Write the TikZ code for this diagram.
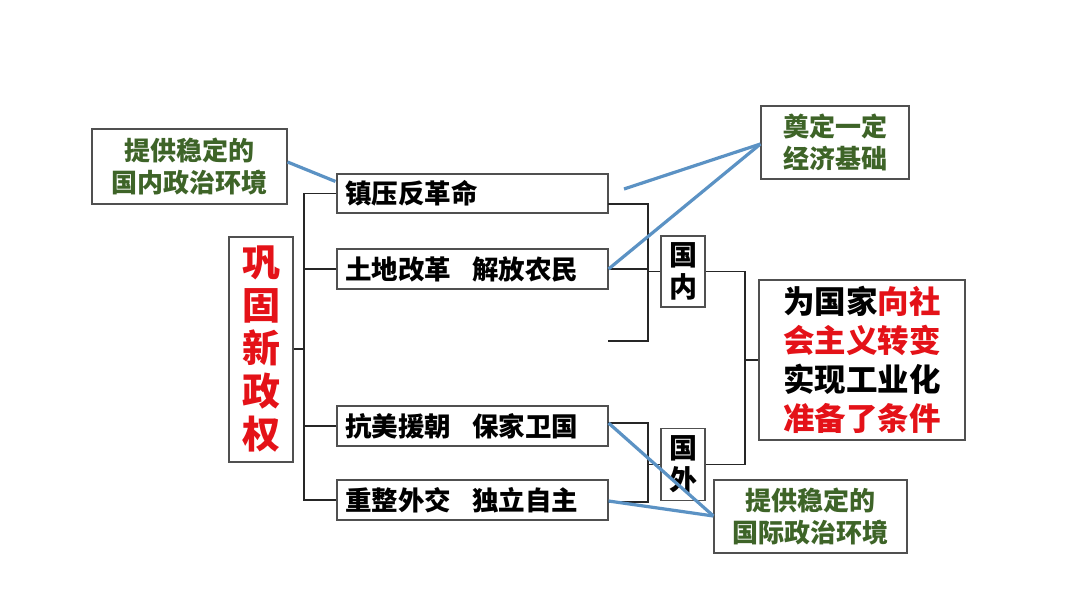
\documentclass[tikz,border=0pt]{standalone}
\usepackage{fontspec}
\setmainfont{Noto Sans CJK SC}
\usetikzlibrary{calc}
\definecolor{bluel}{RGB}{91,146,196}
\definecolor{gtxt}{RGB}{62,100,40}
\definecolor{rtxt}{RGB}{228,18,24}
\definecolor{bord}{RGB}{80,80,80}
\tikzset{
  box/.style={draw=bord, line width=1.1pt, inner sep=0pt, fill=white},
  lbox/.style={box, minimum height=40pt, text width=255pt, inner xsep=8pt, align=left,
    font=\fontsize{26.5}{30}\selectfont\bfseries},
  gbox/.style={box, align=center, text=gtxt, font=\fontsize{26}{32}\selectfont\bfseries},
  brk/.style={line width=1.2pt, black!85},
  blink/.style={line width=3.2pt, bluel},
}
\begin{document}
\begin{tikzpicture}[x=1pt,y=-1pt]
\useasboundingbox[fill=white] (0,0) rectangle (1080,608);
% boxes
\node[gbox, minimum width=195pt, minimum height=75pt] (g1) at (189.5,166.5) {提供稳定的\\国内政治环境};
\node[gbox, minimum width=148pt, minimum height=73pt] (g2) at (835,142.5) {奠定一定\\经济基础};
\node[gbox, minimum width=193pt, minimum height=73pt] (g3) at (810.5,516.5) {提供稳定的\\国际政治环境};
\node[lbox, minimum height=39pt] (z1) at (472.5,193.5) {镇压反革命};
\node[lbox] (z2) at (472.5,269) {土地改革\hspace{0.8em}解放农民};
\node[lbox] (z3) at (472.5,426) {抗美援朝\hspace{0.8em}保家卫国};
\node[lbox] (z4) at (472.5,500) {重整外交\hspace{0.8em}独立自主};
\node[box, minimum width=64pt, minimum height=225pt, align=center, text=rtxt,
  font=\fontsize{38}{43}\selectfont\bfseries] (gg) at (261,349.5) {巩\\固\\新\\政\\权};
\node[box, minimum width=44pt, minimum height=71pt, align=center,
  font=\fontsize{28}{32}\selectfont\bfseries] (gn) at (683,271.5) {国\\内};
\node[box, minimum width=44pt, minimum height=72pt, align=center,
  font=\fontsize{28}{32}\selectfont\bfseries] (gw) at (683,464.5) {国\\外};
\node[box, minimum width=206pt, minimum height=160pt, align=center,
  font=\fontsize{31.5}{39}\selectfont\bfseries] (res) at (862,360)
  {为国家\textcolor{rtxt}{向社}\\\textcolor{rtxt}{会主义转变}\\实现工业化\\\textcolor{rtxt}{准备了条件}};
% left bracket
\draw[brk] (gg.east |- 0,349) -- (304,349);
\draw[brk] (z1.west) -- (304,193.5) -- (304,500) -- (z4.west);
\draw[brk] (z2.west) -- (304,269);
\draw[brk] (z3.west) -- (304,426);
% domestic bracket
\coordinate (d1) at (608,204);
\coordinate (d3) at (608,341);
\draw[brk] (d1) -- (648,204) -- (648,341) -- (d3);
\draw[brk] (z2.east) -- (648,269) -- (648,271.5) -- (gn.west);
% foreign bracket
\coordinate (f1) at (608,423);
\coordinate (f3) at (608,502);
\draw[brk] (f1) -- (648,423) -- (648,502) -- (f3);
\draw[brk] (648,464.5) -- (gw.west);
% right bracket
\draw[brk] (gn.east) -- (745,271.5) -- (745,464.5) -- (gw.east);
\draw[brk] (745,360) -- (res.west);
% blue links
\coordinate (b0) at (624,189);
\draw[blink] (g1.east |- 0,162) -- ($(z1.north west)+(-1,8)$);
\draw[blink] (b0) -- (g2.west |- 0,144);
\draw[blink] (z2.east) -- (g2.west |- 0,144);
\draw[blink] ($(z3.east)+(0,-3)$) -- (g3.west |- 0,516);
\draw[blink] ($(z4.east)+(0,1)$) -- (g3.west |- 0,516);
\end{tikzpicture}
\end{document}
